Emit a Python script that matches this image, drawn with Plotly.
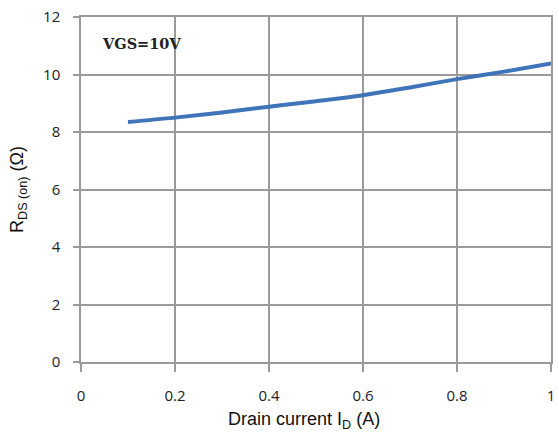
import plotly.graph_objects as go

drain_current = [0.1, 0.2, 0.3, 0.4, 0.5, 0.6, 0.7, 0.8, 0.9, 1.0]
rds_on = [8.35, 8.5, 8.68, 8.88, 9.07, 9.28, 9.55, 9.84, 10.1, 10.38]
x_ticks = [0, 0.2, 0.4, 0.6, 0.8, 1.0]
x_tick_labels = ["0", "0.2", "0.4", "0.6", "0.8", "1"]
y_ticks = [0, 2, 4, 6, 8, 10, 12]
y_tick_labels = ["0", "2", "4", "6", "8", "10", "12"]

grid = "#9a9a9a"
fig = go.Figure()
fig.add_trace(go.Scatter(
    x=drain_current, y=rds_on, mode="lines",
    line=dict(color="#3f74b9", width=4, shape="spline"),
    showlegend=False,
))
fig.add_annotation(
    x=0.04, y=11.08, xref="x", yref="y", xanchor="left", yanchor="middle",
    text="<b>VGS=10V</b>", showarrow=False,
    font=dict(family="DejaVu Serif", size=14.5, color="#222"),
)
fig.add_annotation(
    x=0.475, y=-0.13, xref="paper", yref="paper", xanchor="center", yanchor="top",
    text="Drain current I<sub>D</sub> (A)", showarrow=False,
    font=dict(family="Liberation Sans", size=18, color="#111"),
)
fig.update_layout(
    width=559, height=439,
    margin=dict(l=81, r=4, t=17, b=77),
    paper_bgcolor="white", plot_bgcolor="white",
    font=dict(family="Liberation Sans", color="#111"),
)
fig.update_xaxes(
    range=[0, 1], tickvals=x_ticks, ticktext=x_tick_labels,
    showgrid=True, gridcolor=grid, gridwidth=1.5,
    zeroline=False, showline=True, linecolor=grid, linewidth=1.5, mirror=True,
    ticks="outside", ticklen=8, tickcolor=grid, tickwidth=1.5,
    ticklabelstandoff=11,
    tickfont=dict(family="Open Sans", size=15, color="#222"),
)
fig.update_yaxes(
    range=[0, 12], tickvals=y_ticks, ticktext=y_tick_labels,
    showgrid=True, gridcolor=grid, gridwidth=1.5,
    zeroline=False, showline=True, linecolor=grid, linewidth=1.5, mirror=True,
    ticks="outside", ticklen=6, tickcolor=grid, tickwidth=1.5,
    ticklabelstandoff=10,
    tickfont=dict(family="Open Sans", size=15, color="#222"),
    title=dict(text="R<sub>DS (on)</sub> (Ω)", font=dict(size=18, family="Liberation Sans"), standoff=15),
)
fig.write_html("out.html")
